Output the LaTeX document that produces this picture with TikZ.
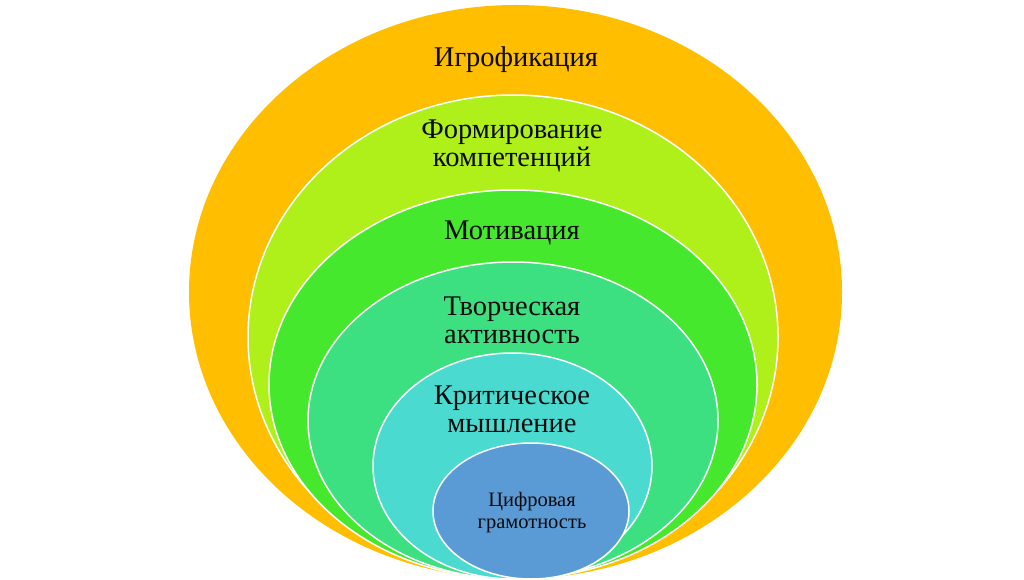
\documentclass[tikz,border=0pt]{standalone}
\usepackage{fontspec}
\setmainfont{Liberation Serif}
\definecolor{cOrange}{RGB}{255,190,0}
\definecolor{cLime}{RGB}{176,240,26}
\definecolor{cGreen}{RGB}{70,232,46}
\definecolor{cTeal}{RGB}{60,224,128}
\definecolor{cCyan}{RGB}{74,218,208}
\definecolor{cBlue}{RGB}{91,155,213}
\definecolor{cText}{RGB}{10,10,10}
\begin{document}
\begin{tikzpicture}[x=1pt,y=-1pt,
  ring/.style={draw=white,line width=1.5pt},
  lbl/.style={text=cText,align=center,inner sep=0pt,font=\fontsize{28.5}{28}\selectfont},
  sml/.style={text=cText,align=center,inner sep=0pt,font=\fontsize{20.5}{22}\selectfont}]
\useasboundingbox (0,0) rectangle (1024,580);
\fill[white] (0,0) rectangle (1024,580);
\path[fill=cOrange] (515.5,292) ellipse [x radius=326.5, y radius=287];
\path[ring,fill=cLime] (513,337) ellipse [x radius=265, y radius=242];
\path[ring,fill=cGreen] (513,384.5) ellipse [x radius=244, y radius=194.5];
\path[ring,fill=cTeal] (513,420.5) ellipse [x radius=205, y radius=158.5];
\path[ring,fill=cCyan] (512.5,466) ellipse [x radius=139.5, y radius=113];
\path[ring,fill=cBlue] (531,511) ellipse [x radius=98, y radius=68];
\node[lbl] (t1) at (516,60) {Игрофикация};
\node[lbl] (t2) at (512,146) {Формирование\\компетенций};
\node[lbl] (t3) at (512,233) {Мотивация};
\node[lbl] (t4) at (512,320) {Творческая\\активность};
\node[lbl] (t5) at (512,409) {Критическое\\мышление};
\node[sml] (t6) at (532,513) {Цифровая\\грамотность};
\end{tikzpicture}
\end{document}
